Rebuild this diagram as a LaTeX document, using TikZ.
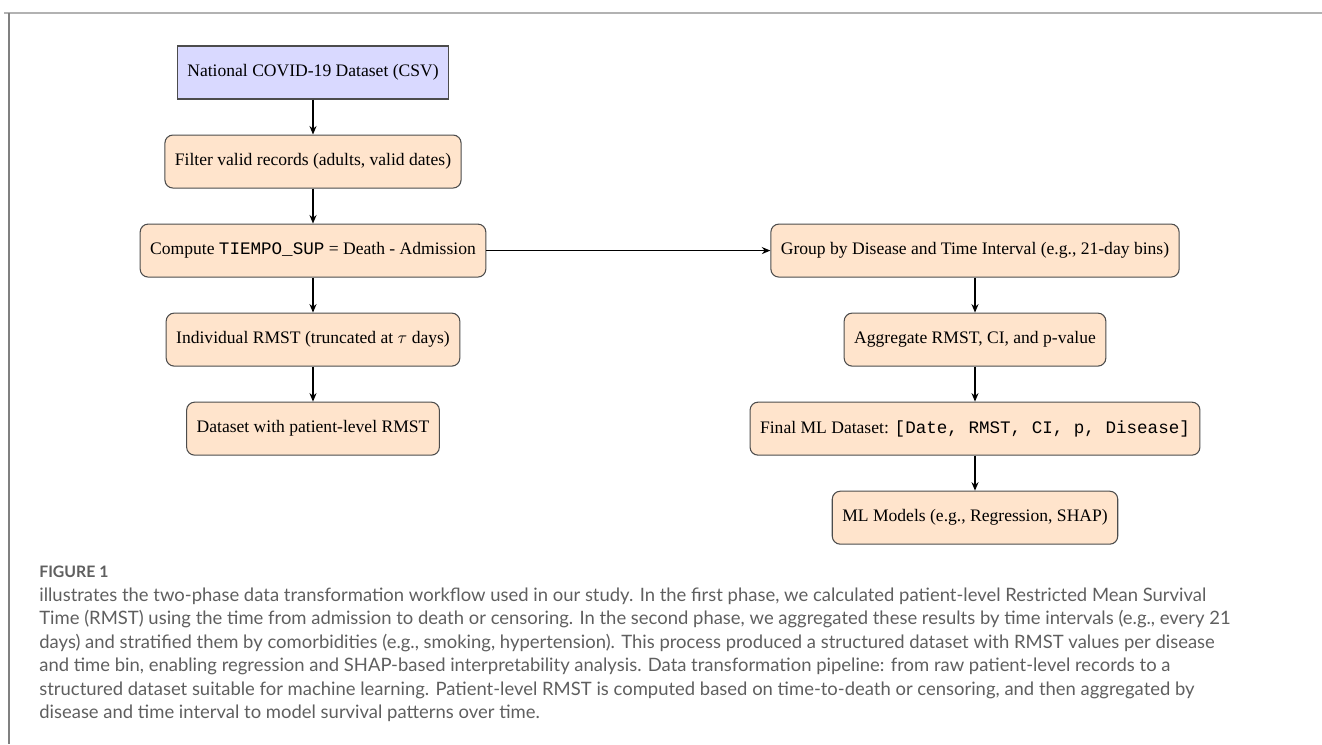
\documentclass[tikz,border=0pt]{standalone}
\usepackage{xcolor}
\usepackage{fontspec}
\setmainfont{Liberation Serif}
\setmonofont{Liberation Mono}
\newfontfamily\capfont{Lato}
\usepackage{tikz}
\usetikzlibrary{arrows.meta,positioning}

\definecolor{srcblue}{RGB}{217,217,255}
\definecolor{stepfill}{RGB}{255,228,204}
\definecolor{capgray}{RGB}{95,95,95}

\begin{document}
\begin{tikzpicture}[x=0.02cm,y=-0.02cm,node distance=7mm and 9mm,box/.style={draw=black!70,line width=0.6pt,align=center,minimum height=10.6mm,inner xsep=2mm,font=\fontsize{10}{12}\selectfont},src/.style={box,fill=srcblue},stepbox/.style={box,rounded corners=1.6mm,fill=stepfill},arr/.style={-{Stealth[length=1.7mm,width=1.4mm]},line width=0.8pt},capline/.style={anchor=west,inner sep=0pt,text=capgray,font=\capfont\fontsize{10.5}{12}\selectfont}]
\useasboundingbox (0,0) rectangle (1322,744);
\draw[black!30,line width=0.05cm] (4,13)--(1322,13);
\draw[black!50,line width=0.03cm] (9,13)--(9,744);
% first phase
\node[src] (raw) at (313,72.5) {National COVID-19 Dataset (CSV)};
\node[stepbox,below=of raw] (filt) {Filter valid records (adults, valid dates)};
\node[stepbox,below=of filt] (comp) {Compute \texttt{TIEMPO\_SUP} = Death - Admission};
\node[stepbox,below=of comp] (indiv) {Individual RMST (truncated at $\tau$ days)};
\node[stepbox,below=of indiv] (pat) {Dataset with patient-level RMST};
% second phase
\coordinate (rcol) at (975,0);
\node[stepbox] (group) at (comp -| rcol) {Group by Disease and Time Interval (e.g., 21-day bins)};
\node[stepbox,below=of group] (agg) {Aggregate RMST, CI, and p-value};
\node[stepbox,below=of agg] (final) {Final ML Dataset: \texttt{[Date, RMST, CI, p, Disease]}};
\node[stepbox,below=of final] (model) {ML Models (e.g., Regression, SHAP)};
\draw[arr] (raw)--(filt);
\draw[arr] (filt)--(comp);
\draw[arr] (comp)--(indiv);
\draw[arr] (indiv)--(pat);
\draw[arr] (comp)--(group);
\draw[arr] (group)--(agg);
\draw[arr] (agg)--(final);
\draw[arr] (final)--(model);
% caption
\node[capline,font=\capfont\bfseries\fontsize{9}{10}\selectfont] (figno) at (39,572) {FIGURE 1};
\node[capline] (cap1) at (39,596) {illustrates the two-phase data transformation workflow used in our study. In the first phase, we calculated patient-level Restricted Mean Survival};
\node[capline] (cap2) at (39,619.5) {Time (RMST) using the time from admission to death or censoring. In the second phase, we aggregated these results by time intervals (e.g., every 21};
\node[capline] (cap3) at (39,643) {days) and stratified them by comorbidities (e.g., smoking, hypertension). This process produced a structured dataset with RMST values per disease};
\node[capline] (cap4) at (39,666.5) {and time bin, enabling regression and SHAP-based interpretability analysis. Data transformation pipeline: from raw patient-level records to a};
\node[capline] (cap5) at (39,690) {structured dataset suitable for machine learning. Patient-level RMST is computed based on time-to-death or censoring, and then aggregated by};
\node[capline] (cap6) at (39,713.5) {disease and time interval to model survival patterns over time.};
\end{tikzpicture}
\end{document}
